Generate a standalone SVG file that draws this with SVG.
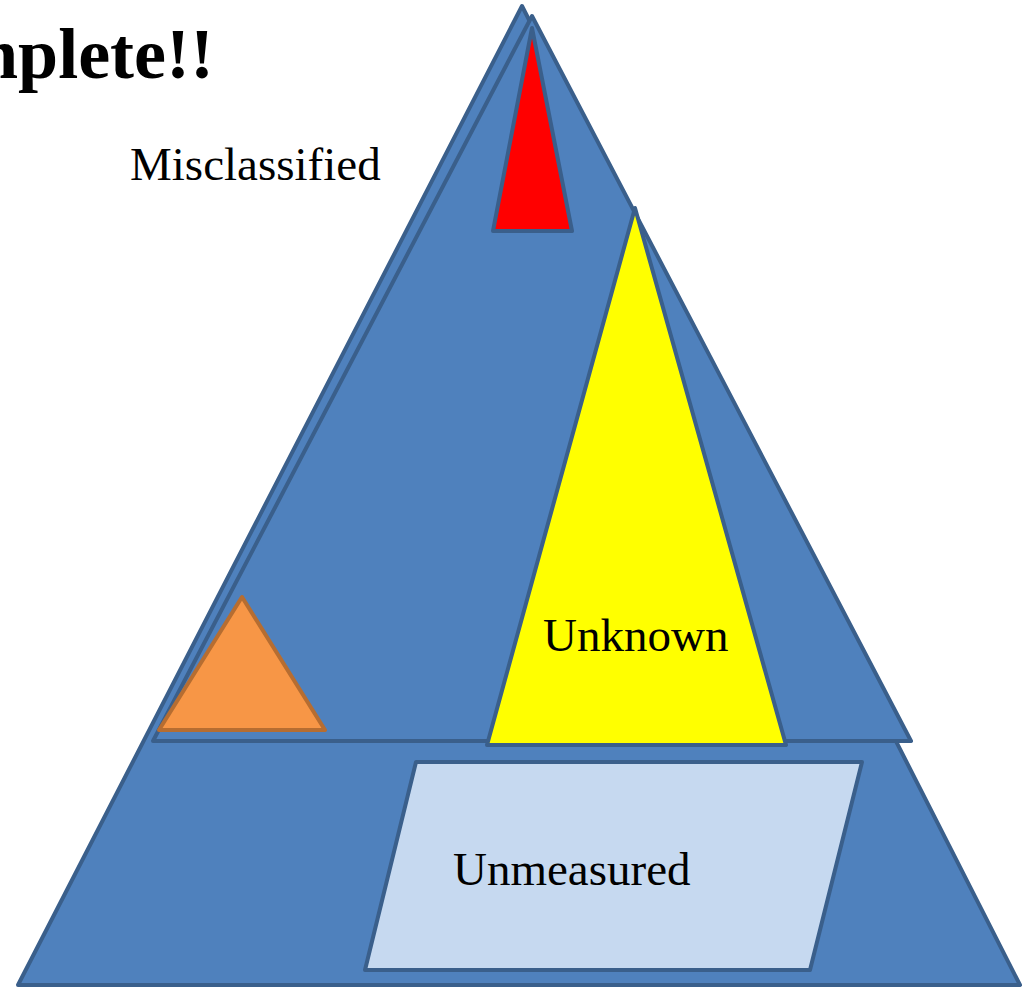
<svg xmlns="http://www.w3.org/2000/svg" width="1022" height="988" viewBox="0 0 1022 988">
<style>
.shape{stroke:#3A5F8B;stroke-width:4;stroke-linejoin:round}
.blue{fill:#4F81BD}
.lbl{font-family:"Liberation Serif",serif;font-size:47px;fill:#000}
</style>
<rect width="1022" height="988" fill="#fff"/>
<text x="214" y="78" font-family="Liberation Serif, serif" font-size="72" font-weight="bold" text-anchor="end">mplete!!</text>
<g id="base-triangle"><polygon class="shape blue" points="522,6 1020,985 18,985"/></g>
<g id="upper-triangle"><polygon class="shape blue" points="532,16 911,741 153,741"/></g>
<g id="misclassified"><polygon class="shape" fill="#FF0000" points="532,28 572,231 493,231"/>
<text class="lbl" x="130" y="180">Misclassified</text></g>
<g id="unknown"><polygon class="shape" fill="#FFFF00" points="635,208 786,745 487,745"/>
<text class="lbl" x="543" y="651">Unknown</text></g>
<g id="small-triangle"><polygon points="242,597 325,730 159,730" fill="#F79646" stroke="#B66D31" stroke-width="4" stroke-linejoin="round"/></g>
<g id="unmeasured"><polygon class="shape" fill="#C6D9F0" points="416,762 862,762 810,970 365,970"/>
<text class="lbl" x="453" y="885">Unmeasured</text></g>
<g id="connectors"/>
</svg>
